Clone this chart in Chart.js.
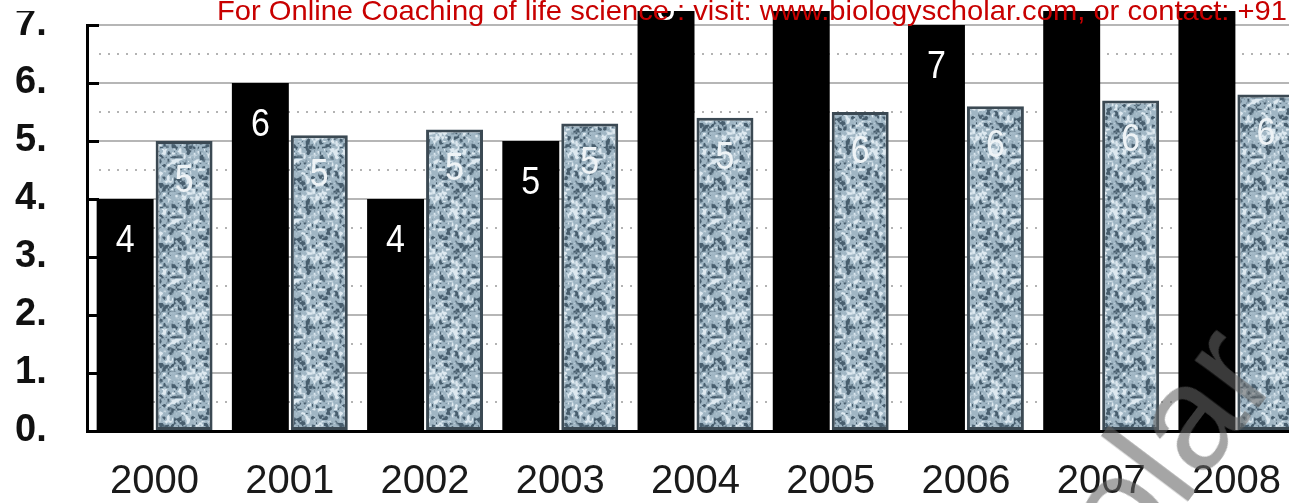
<!DOCTYPE html>
<html>
<head>
<meta charset="utf-8">
<script src="https://cdn.jsdelivr.net/npm/chart.js@4.4.1/dist/chart.umd.min.js"></script>
<style>
html, body { margin:0; padding:0; background:#fff; width:1289px; height:503px; overflow:hidden; position:relative; font-family:"Liberation Sans", Arial, sans-serif; }
#wrap { position:absolute; left:0; top:11px; width:1320px; height:492px; overflow:hidden; }
#c { position:absolute; left:0; top:-50px; }
#note { position:absolute; left:217px; top:-5px; color:#c80000; font-size:28px; line-height:32px; white-space:nowrap; transform-origin:0 0; z-index:5; }
#wm { position:absolute; left:1150px; top:440px; color:rgba(100,100,100,0.58); font-size:150px; line-height:150px; white-space:nowrap; transform-origin:0 100%; transform:rotate(-53deg); z-index:4; }
</style>
</head>
<body>
<div id="wrap"><canvas id="c" width="1320" height="542"></canvas></div>
<div id="note">For Online Coaching of life science : visit: www.biologyscholar.com, or contact: +91</div>
<div id="wm">olar</div>
<script>
// ---- data ----
const years = ['2000', '2001', '2002', '2003', '2004', '2005', '2006', '2007', '2008'];
const blackValues = [4, 6, 4, 5, 8, 9, 7, 9, 9];
const greyValues = [5.0, 5.1, 5.2, 5.3, 5.4, 5.5, 5.6, 5.7, 5.8];
const yTicks = [0, 1, 2, 3, 4, 5, 6, 7];
const halfLines = [0.5, 1.5, 2.5, 3.5, 4.5, 5.5, 6.5];

// ---- speckled texture for the grey series ----
function makeTexture() {
  const S = 60;
  const c = document.createElement('canvas');
  c.width = S; c.height = S;
  const g = c.getContext('2d');
  const img = g.createImageData(S, S);
  const sm = t => t * t * (3 - 2 * t);
  const makeNoise = (cell, seed) => {
    const N = S / cell;
    const h = (i, j) => {
      i = ((i % N) + N) % N; j = ((j % N) + N) % N;
      const s = Math.sin(i * 127.1 + j * 311.7 + seed * 74.7) * 43758.5453;
      return s - Math.floor(s);
    };
    return (x, y) => {
      const fx0 = x / cell, fy0 = y / cell;
      const i = Math.floor(fx0), j = Math.floor(fy0);
      const fx = sm(fx0 - i), fy = sm(fy0 - j);
      const a = h(i, j), b = h(i + 1, j), c2 = h(i, j + 1), d = h(i + 1, j + 1);
      return (a * (1 - fx) + b * fx) * (1 - fy) + (c2 * (1 - fx) + d * fx) * fy;
    };
  };
  const n1 = makeNoise(4, 1), n2 = makeNoise(2, 2);
  const dark = [72, 94, 110], mid = [160, 182, 196], light = [222, 233, 240];
  for (let y = 0; y < S; y++) {
    for (let x = 0; x < S; x++) {
      const v = 0.55 * n1(x, y) + 0.45 * n2(x, y);
      let t = (v - 0.5) * 2.4 + 0.5;
      t = Math.max(0, Math.min(1, t));
      let col;
      if (t < 0.35) {
        const u = t / 0.35;
        col = dark.map((d, q) => d + (mid[q] - d) * u);
      } else if (t < 0.7) {
        col = mid;
      } else {
        const u = (t - 0.7) / 0.3;
        col = mid.map((m, q) => m + (light[q] - m) * u);
      }
      const k = (y * S + x) * 4;
      for (let q = 0; q < 3; q++) img.data[k + q] = Math.round(col[q]);
      img.data[k + 3] = 255;
    }
  }
  g.putImageData(img, 0, 0);
  return document.getElementById('c').getContext('2d').createPattern(c, 'repeat');
}

const FONT = '"Liberation Sans", Arial, sans-serif';

const decorPlugin = {
  id: 'decor',
  beforeDatasetsDraw(chart) {
    const ctx = chart.ctx, ys = chart.scales.y, a = chart.chartArea;
    ctx.save();
    ctx.strokeStyle = '#b3b3b3';
    ctx.lineWidth = 2;
    ctx.setLineDash([2, 7]);
    halfLines.forEach(v => {
      const py = Math.round(ys.getPixelForValue(v));
      ctx.beginPath(); ctx.moveTo(a.left + 12, py); ctx.lineTo(a.right, py); ctx.stroke();
    });
    ctx.setLineDash([]);
    ctx.strokeStyle = '#000';
    ctx.lineWidth = 3;
    yTicks.forEach(v => {
      if (v === 0) return;
      const py = Math.round(ys.getPixelForValue(v)) + 0.5;
      ctx.beginPath(); ctx.moveTo(a.left, py); ctx.lineTo(a.left + 12, py); ctx.stroke();
    });
    ctx.restore();
  },
  afterDatasetsDraw(chart) {
    const ctx = chart.ctx;
    ctx.save();
    ctx.textAlign = 'center';
    ctx.textBaseline = 'middle';
    ctx.font = '34px ' + FONT;
    chart.data.datasets.forEach((ds, di) => {
      const meta = chart.getDatasetMeta(di);
      const off = di === 0 ? 42 : 40;
      ctx.fillStyle = di === 0 ? '#fff' : '#eef3f6';
      meta.data.forEach((el, i) => {
        const txt = String(Math.round(ds.data[i]));
        ctx.save();
        ctx.translate(el.x, el.y + off);
        ctx.scale(1, 1.15);
        ctx.fillText(txt, 0, 0);
        ctx.restore();
      });
    });
    ctx.restore();
  }
};

const chart = new Chart(document.getElementById('c'), {
  type: 'bar',
  data: {
    labels: years,
    datasets: [
      { data: blackValues, backgroundColor: '#000', borderWidth: 0, clip: false,
        categoryPercentage: 0.872, barPercentage: 0.966 },
      { data: greyValues, backgroundColor: makeTexture(), borderColor: '#3b4953', borderWidth: 3,
        borderSkipped: false, clip: false, categoryPercentage: 0.872, barPercentage: 0.966 }
    ]
  },
  options: {
    responsive: false,
    animation: false,
    devicePixelRatio: 1,
    layout: { padding: { top: 64, right: 16, left: 15, bottom: 0 } },
    plugins: { legend: { display: false }, tooltip: { enabled: false } },
    scales: {
      x: {
        grid: { display: false },
        border: { color: '#000', width: 3 },
        ticks: { color: '#1a1a1a', font: { size: 40, family: FONT }, padding: 19, maxRotation: 0 },
        afterFit: s => { s.height = 72; }
      },
      y: {
        min: 0, max: 7,
        afterBuildTicks: s => { s.ticks = yTicks.map(v => ({ value: v })); },
        grid: { color: '#b6b6b6', lineWidth: 2, drawTicks: false },
        border: { color: '#000', width: 3 },
        ticks: { color: '#111', font: { size: 38, weight: 'bold', family: FONT }, padding: 0,
                 crossAlign: 'far', callback: v => v + '.' },
        afterFit: s => { s.width = 72; }
      }
    }
  },
  plugins: [decorPlugin]
});

// fit the red note to the width seen in the reference
const note = document.getElementById('note');
const w = note.getBoundingClientRect().width;
note.style.transform = 'scaleX(' + (1070 / w) + ')';
</script>
</body>
</html>
